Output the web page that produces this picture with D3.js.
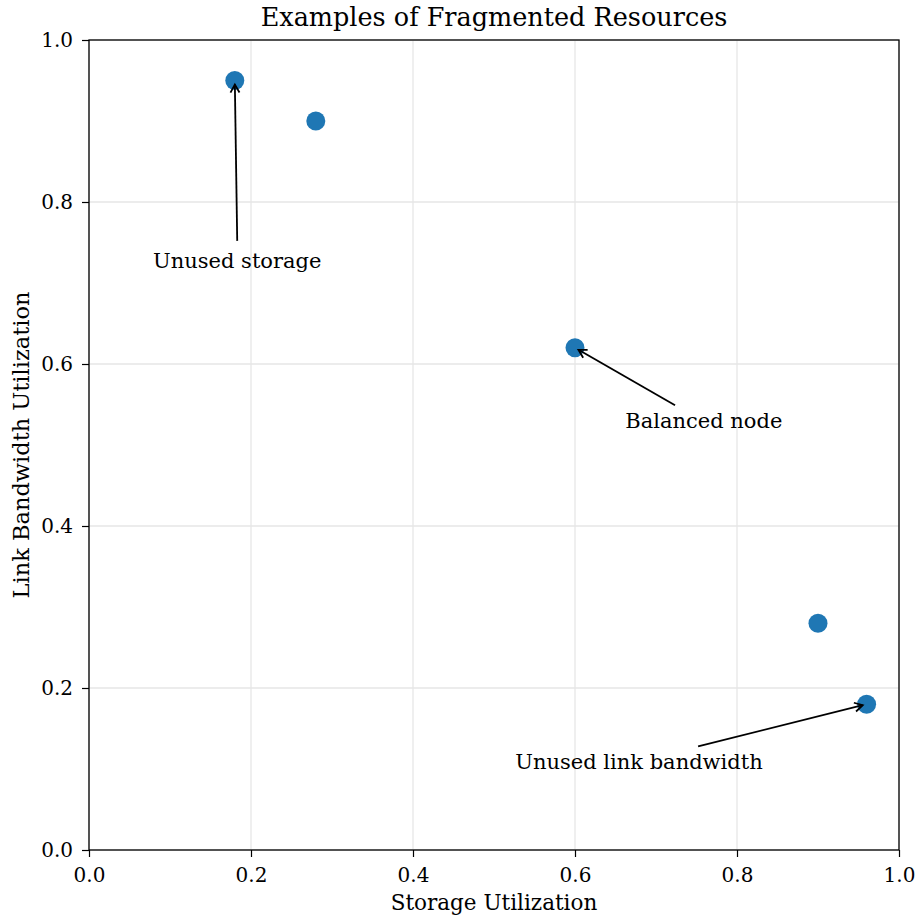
<!DOCTYPE html>
<html>
<head>
<meta charset="utf-8">
<script src="https://cdn.jsdelivr.net/npm/d3@7"></script>
<style>
  body { margin: 0; background: #fff; }
  svg { font-family: "DejaVu Serif", "Liberation Serif", serif; }
</style>
</head>
<body>
<svg id="chart" width="919" height="918"></svg>
<script>
"use strict";

// data
const storageUtil = [0.18, 0.28, 0.6, 0.9, 0.96];
const linkUtil = [0.95, 0.9, 0.62, 0.28, 0.18];
const xTicks = [0.0, 0.2, 0.4, 0.6, 0.8, 1.0];
const yTicks = [0.0, 0.2, 0.4, 0.6, 0.8, 1.0];

// annotations: label, target point index, text centre, arrow tail
const annLabels = ["Unused storage", "Balanced node", "Unused link bandwidth"];
const annTarget = [0, 2, 4];
const annText = [[0.183, 0.728], [0.759, 0.53], [0.679, 0.109]];
const annTail = [[0.183, 0.752], [0.7235, 0.549], [0.752, 0.128]];

const svg = d3.select("#chart");
const m = { left: 89, right: 20, top: 40, bottom: 68 };
const W = 919, H = 918;
const iw = W - m.left - m.right, ih = H - m.top - m.bottom;

const x = d3.scaleLinear().domain([0, 1]).range([m.left, m.left + iw]);
const y = d3.scaleLinear().domain([0, 1]).range([m.top + ih, m.top]);

// grid
const grid = svg.append("g").attr("stroke", "#e6e6e6").attr("stroke-width", 1.3);
grid.selectAll("line.vx").data(xTicks).join("line")
  .attr("x1", d => x(d)).attr("x2", d => x(d))
  .attr("y1", m.top).attr("y2", m.top + ih);
grid.selectAll("line.hy").data(yTicks).join("line")
  .attr("y1", d => y(d)).attr("y2", d => y(d))
  .attr("x1", m.left).attr("x2", m.left + iw);

// frame
svg.append("rect")
  .attr("x", m.left).attr("y", m.top).attr("width", iw).attr("height", ih)
  .attr("fill", "none").attr("stroke", "#000").attr("stroke-width", 1.3);

const xAxis = svg.append("g")
  .attr("transform", `translate(0,${m.top + ih})`)
  .call(d3.axisBottom(x).tickValues(xTicks).tickFormat(d3.format(".1f")).tickSize(7).tickPadding(11));
const yAxis = svg.append("g")
  .attr("transform", `translate(${m.left},0)`)
  .call(d3.axisLeft(y).tickValues(yTicks).tickFormat(d3.format(".1f")).tickSize(7).tickPadding(9));
[xAxis, yAxis].forEach(a => {
  a.select(".domain").remove();
  a.selectAll("line").attr("stroke", "#000").attr("stroke-width", 1.2);
  a.selectAll("text").attr("fill", "#000").style("font-family", "DejaVu Serif, serif").style("font-size", "20px");
});

// points
svg.append("g").selectAll("circle").data(storageUtil).join("circle")
  .attr("cx", d => x(d)).attr("cy", (d, i) => y(linkUtil[i]))
  .attr("r", 9.5).attr("fill", "#1f77b4");

// arrows
const defs = svg.append("defs");
defs.append("marker").attr("id", "head")
  .attr("viewBox", "-10 -6 12 12").attr("refX", 0).attr("refY", 0)
  .attr("markerWidth", 12).attr("markerHeight", 12).attr("markerUnits", "userSpaceOnUse")
  .attr("orient", "auto")
  .append("path").attr("d", "M-8,-4.5 L0,0 L-8,4.5")
  .attr("fill", "none").attr("stroke", "#000").attr("stroke-width", 1.8);

const ann = svg.append("g");
annLabels.forEach((label, i) => {
  const t = annTarget[i];
  const x1 = x(annTail[i][0]), y1 = y(annTail[i][1]);
  let x2 = x(storageUtil[t]), y2 = y(linkUtil[t]);
  const dx = x2 - x1, dy = y2 - y1, len = Math.hypot(dx, dy);
  x2 -= dx / len * 4; y2 -= dy / len * 4;
  ann.append("line")
    .attr("x1", x1).attr("y1", y1).attr("x2", x2).attr("y2", y2)
    .attr("stroke", "#000").attr("stroke-width", 1.8)
    .attr("marker-end", "url(#head)");
  ann.append("text")
    .attr("x", x(annText[i][0])).attr("y", y(annText[i][1]))
    .attr("text-anchor", "middle").attr("dy", "0.35em")
    .style("font-size", "21px").text(label);
});

// labels
svg.append("text").attr("x", m.left + iw / 2).attr("y", 26)
  .attr("text-anchor", "middle").style("font-size", "25.5px")
  .text("Examples of Fragmented Resources");
svg.append("text").attr("x", m.left + iw / 2).attr("y", 910)
  .attr("text-anchor", "middle").style("font-size", "21.5px")
  .text("Storage Utilization");
svg.append("text")
  .attr("transform", `translate(29,${m.top + ih / 2}) rotate(-90)`)
  .attr("text-anchor", "middle").style("font-size", "22.5px")
  .text("Link Bandwidth Utilization");
</script>
</body>
</html>
